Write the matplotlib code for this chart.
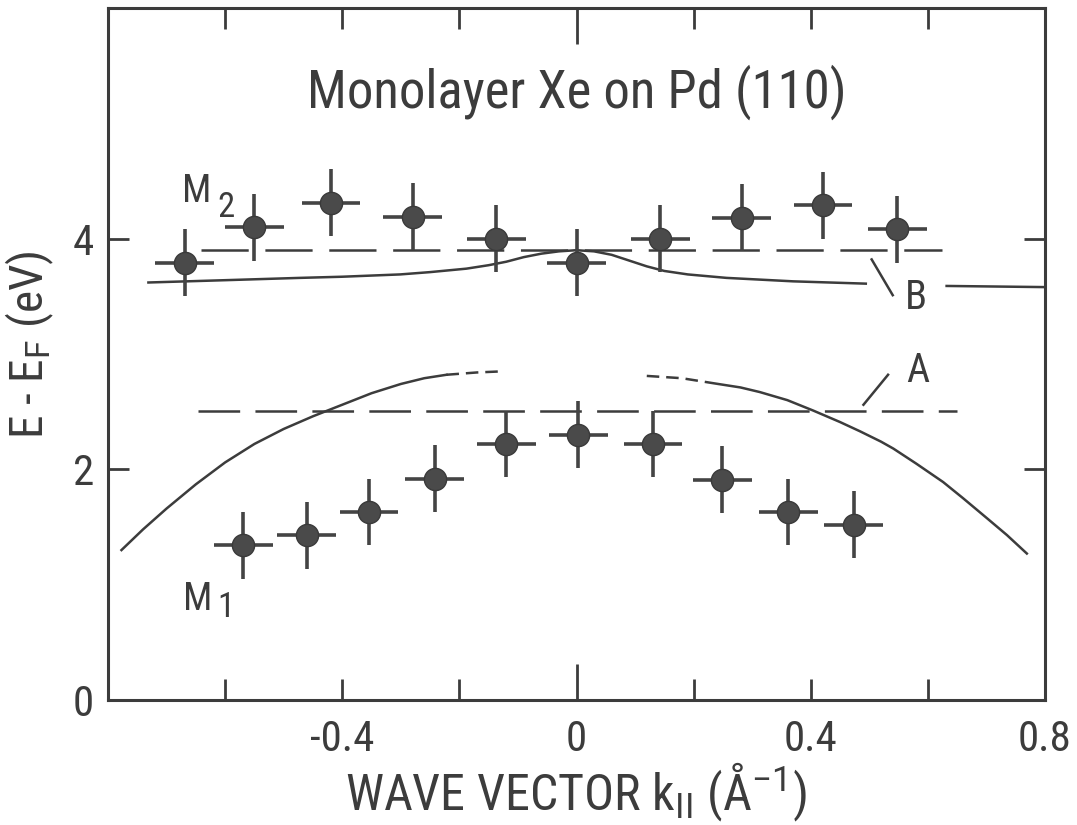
import numpy as np
import matplotlib
matplotlib.use('Agg')
import matplotlib.pyplot as plt

plt.rcParams['font.family'] = ['Roboto Condensed', 'DejaVu Sans Condensed', 'Roboto', 'DejaVu Sans']
plt.rcParams['font.stretch'] = 'condensed'
plt.rcParams['mathtext.fontset'] = 'custom'
plt.rcParams['mathtext.rm'] = 'Roboto'
plt.rcParams['mathtext.it'] = 'Roboto'
plt.rcParams['lines.scale_dashes'] = False

ink = '#3c3c3c'

# measured band points (k in 1/A, energy in eV)
k_m2 = [-0.669, -0.550, -0.419, -0.280, -0.137, 0.0, 0.143, 0.282, 0.421, 0.548]
e_m2 = [3.79, 4.10, 4.31, 4.19, 4.00, 3.79, 4.00, 4.18, 4.29, 4.08]
k_m1 = [-0.569, -0.461, -0.354, -0.242, -0.120, 0.003, 0.131, 0.249, 0.362, 0.473]
e_m1 = [1.34, 1.43, 1.63, 1.92, 2.22, 2.30, 2.22, 1.91, 1.63, 1.52]
k_err = 0.05
e_err = 0.29

# flat levels A and B
level_a = 2.51
level_a_range = [-0.646, 0.650]
level_b = 3.90
level_b_range = [-0.641, 0.624]

# calculated band B (solid, broken where the label sits)
k_b1 = [-0.731, -0.600, -0.472, -0.400, -0.301, -0.250, -0.188, -0.150, -0.120,
        -0.090, -0.060, -0.030, 0.0, 0.030, 0.060, 0.090, 0.120, 0.150,
        0.190, 0.256, 0.370, 0.494]
e_b1 = [3.62, 3.64, 3.66, 3.67, 3.69, 3.71, 3.74, 3.77, 3.80,
        3.84, 3.87, 3.89, 3.90, 3.89, 3.86, 3.81, 3.76, 3.72,
        3.69, 3.66, 3.63, 3.61]
k_b2 = [0.632, 0.800]
e_b2 = [3.59, 3.58]

# calculated band A: solid wings and dashed continuation near k = 0
k_a_left = [-0.777, -0.740, -0.700, -0.650, -0.600, -0.550, -0.500, -0.450,
            -0.400, -0.350, -0.300, -0.260, -0.222]
e_a_left = [1.30, 1.48, 1.66, 1.87, 2.06, 2.22, 2.35, 2.46,
            2.56, 2.66, 2.74, 2.79, 2.82]
k_a_left_dash = [-0.222, -0.170, -0.125]
e_a_left_dash = [2.82, 2.84, 2.85]
k_a_right_dash = [0.120, 0.180, 0.242]
e_a_right_dash = [2.81, 2.79, 2.74]
k_a_right = [0.242, 0.280, 0.313, 0.360, 0.404, 0.450, 0.484, 0.520, 0.541,
             0.580, 0.626, 0.660, 0.700, 0.735, 0.769]
e_a_right = [2.74, 2.71, 2.67, 2.60, 2.51, 2.41, 2.33, 2.24, 2.18,
             2.05, 1.89, 1.75, 1.58, 1.43, 1.27]

x_ticks = [-0.6, -0.4, -0.2, 0.0, 0.2, 0.4, 0.6, 0.8]
x_ticklabels = ['', '-0.4', '', '0', '', '0.4', '', '0.8']
y_ticks = [0, 2, 4]
y_ticklabels = ['0', '2', '4']

fig = plt.figure(figsize=(10.77, 8.25), dpi=100)
ax = fig.add_axes([108 / 1077, 125 / 825, 937 / 1077, 692 / 825])

ax.hlines(level_b, *level_b_range, color=ink, lw=1.8, linestyles=[(0, (34, 12))])
ax.hlines(level_a, *level_a_range, color=ink, lw=1.8, linestyles=[(0, (30, 11))])

ax.plot(k_b1, e_b1, color=ink, lw=1.8)
ax.plot(k_b2, e_b2, color=ink, lw=1.8)
ax.plot(k_a_left, e_a_left, color=ink, lw=1.8)
ax.plot(k_a_right, e_a_right, color=ink, lw=1.8)
ax.plot(k_a_left_dash, e_a_left_dash, color=ink, lw=1.8, dashes=(9, 5))
ax.plot(k_a_right_dash, e_a_right_dash, color=ink, lw=1.8, dashes=(9, 5))

for k, e in ((k_m2, e_m2), (k_m1, e_m1)):
    ax.errorbar(k, e, xerr=k_err, yerr=e_err, fmt='o', ms=16, color='#444444',
                mfc='#4a4a4a', mec='#3a3a3a', elinewidth=2.6, capsize=0)

# band labels
ax.plot([0.504, 0.540], [3.82, 3.51], color=ink, lw=1.8)
ax.text(0.580, 3.49, 'B', fontsize=29, color=ink, ha='center', va='center')
ax.plot([0.490, 0.532], [2.56, 2.82], color=ink, lw=1.8)
ax.text(0.582, 2.86, 'A', fontsize=29, color=ink, ha='center', va='center')
ax.text(-0.624, 4.41, 'M', fontsize=28, color=ink, ha='right', va='center')
ax.text(-0.614, 4.27, '2', fontsize=25, color=ink, ha='left', va='center')
ax.text(-0.621, 0.87, 'M', fontsize=28, color=ink, ha='right', va='center')
ax.text(-0.613, 0.80, '1', fontsize=25, color=ink, ha='left', va='center')

ax.text(0.0, 5.27, 'Monolayer Xe on Pd (110)', fontsize=38, color=ink,
        ha='center', va='center')

ax.set_xlim(-0.8, 0.8)
ax.set_ylim(0, 6)
ax.set_xticks(x_ticks)
ax.set_xticklabels(x_ticklabels)
ax.set_yticks(y_ticks)
ax.set_yticklabels(y_ticklabels)
ax.tick_params(direction='in', length=15, width=2, color=ink, labelcolor=ink,
               labelsize=31, top=True, right=True)
ax.tick_params(axis='x', pad=14)
ax.tick_params(axis='y', pad=10)
zero_tick = ax.xaxis.get_major_ticks()[3]
zero_tick.tick1line.set_markersize(26)
zero_tick.tick2line.set_markersize(26)

for s in ax.spines.values():
    s.set_linewidth(2.2)
    s.set_color(ink)

ax.set_xlabel(r'WAVE VECTOR k$_{\mathrm{II}}$ (Å$^{-1}$)', fontsize=36, color=ink)
ax.xaxis.set_label_coords(0.5, -0.088)
ax.set_ylabel(r'E - E$_{\mathrm{F}}$ (eV)', fontsize=34, color=ink)
ax.yaxis.set_label_coords(-0.056, 0.513)

fig.savefig('out.png', dpi=100)
